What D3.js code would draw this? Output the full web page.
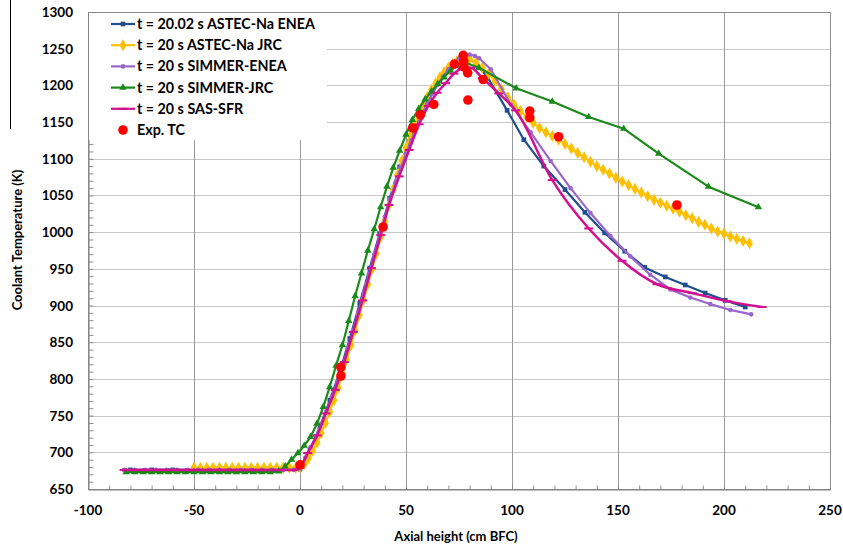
<!DOCTYPE html>
<html>
<head>
<meta charset="utf-8">
<script src="https://cdn.jsdelivr.net/npm/d3@7"></script>
<style>
  body { margin: 0; background: #fff; }
  svg text { font-family: Lato, "Open Sans", sans-serif; font-weight: bold; fill: #000; }
</style>
</head>
<body>
<svg id="chart" width="843" height="549"></svg>
<script>
// series data (axial height in cm BFC, coolant temperature in K)
const astecEneaX = [-80, -70, -60, -50, -40, -30, -20, -10, 0,
  4.7, 9.4, 14.1, 18.8, 23.5, 28.2, 32.9, 37.6, 42.3, 47, 51.7, 56.4, 61.1, 65.8, 70.5, 75.2, 79.9,
  88.3, 97.7, 105.6, 115, 125, 134.4, 143.7, 153.2, 162.6, 172.3, 181.7, 191.1, 200.6, 210];
const astecEneaT = [676, 676, 676, 676, 676, 676, 676, 676, 677,
  703, 735, 771, 810, 855, 903, 951, 998, 1046, 1089, 1124, 1156, 1184, 1206, 1223, 1234, 1238,
  1212, 1166, 1126, 1090, 1058, 1027, 999, 974, 952, 939, 928, 917, 907, 898];

const astecJrcX = [-50, -47, -44, -41, -38, -35, -32, -29, -26, -23, -20, -17, -14, -11, -8, -5, -2, 0,
  2, 4, 6, 8, 10, 12, 14, 16, 18, 20, 22, 24, 26, 28, 30, 32, 34, 36, 38, 40, 42, 44, 46, 48, 50,
  52, 54, 56, 58, 60, 62, 64, 66, 68, 70, 72, 74, 76, 78, 80, 83, 86, 89, 92, 95, 98, 101, 104, 107,
  110, 113, 116, 119, 122, 125, 128, 131, 134, 137, 140, 143, 146, 149, 152, 155, 158, 161, 164, 167,
  170, 173, 176, 179, 182, 185, 188, 191, 194, 197, 200, 203, 206, 209, 212];
const astecJrcT = [679, 679, 679, 679, 679, 679, 679, 679, 679, 679, 679, 679, 679, 679, 679, 679, 679, 680,
  684, 692, 702, 713, 726, 740, 755, 771, 788, 807, 826, 846, 866, 887, 908, 929, 950, 971, 993, 1015, 1037, 1058, 1078, 1097, 1115,
  1131, 1146, 1160, 1173, 1184, 1194, 1203, 1211, 1218, 1224, 1229, 1233, 1236, 1237, 1236, 1231, 1224, 1216, 1206, 1195, 1184, 1174, 1165, 1157,
  1149, 1142, 1136, 1131, 1126, 1120, 1114, 1108, 1102, 1096, 1090, 1085, 1080, 1074, 1069, 1064, 1059, 1054, 1049, 1044,
  1040, 1036, 1032, 1028, 1023, 1019, 1014, 1010, 1005, 1001, 998, 994, 991, 988, 985];

const simmerEneaX = [-83, -78, -73, -68, -63, -58, -53, -48, -43, -38, -33, -28, -23, -18, -13, -8, -3, 0,
  2.5, 5, 7.5, 10, 12.5, 15, 17.5, 20, 22.5, 25, 27.5, 30, 32.5, 35, 37.5, 40, 42.5, 45, 47.5, 50,
  52.5, 55, 57.5, 60, 62.5, 65, 67.5, 70, 72.5, 75, 77.5, 80, 82.5, 84.5,
  90, 99.4, 108.8, 118.2, 127.6, 137, 146.4, 155.8, 165.2, 174.7, 184.1, 193.5, 203, 212.8];
const simmerEneaT = [676, 676, 676, 676, 676, 676, 676, 676, 676, 676, 676, 676, 676, 676, 676, 676, 676, 678,
  693, 707, 722, 739, 757, 776, 796, 817, 841, 866, 891, 917, 943, 969, 995, 1021, 1045, 1067, 1088, 1107,
  1125, 1143, 1160, 1175, 1189, 1201, 1212, 1222, 1230, 1237, 1241, 1242, 1240, 1237,
  1222, 1174, 1136, 1097, 1060, 1026, 995, 967, 942, 922, 911, 902, 894, 888];

const simmerJrcX = [-82, -78, -74, -70, -66, -62, -58, -54, -50, -46, -42, -38, -34, -30, -26, -22, -18, -14, -10,
  -7, -4, -1, 2, 5, 8, 11, 14, 17, 20, 23, 26, 29, 32, 35, 38, 41, 44, 47, 50, 53, 56, 59, 62, 65, 68, 71, 74, 77,
  84.4, 102, 119, 136.2, 152.7, 169.2, 192.7, 216.2];
const simmerJrcT = [673, 673, 673, 673, 673, 673, 673, 673, 673, 673, 673, 673, 673, 673, 673, 673, 673, 673, 674,
  681, 690, 699, 709, 721, 739, 762, 789, 818, 846, 879, 913, 944, 975, 1004, 1034, 1062, 1088, 1111, 1133, 1153, 1168, 1181, 1192, 1202, 1211, 1220, 1227, 1232,
  1224, 1196, 1178, 1157, 1141, 1107, 1062, 1034];

const sasX = [-83, -79, -75, -71, -67, -63, -59, -55, -51, -47, -43, -39, -35, -31, -27, -23, -19, -15, -11, -7, -3, 0,
  3.6, 8.1, 12.2, 16.6, 20.9, 25.1, 29.5, 33.7, 38.1, 42, 46.8, 51.5, 56.2, 60.5, 64.7, 68.7, 72.6, 76.6, 80.5,
  86, 93.8, 101.7, 119, 136.2, 151.9, 168.4, 185, 201.5, 218];
const sasT = [676, 676, 676, 676, 676, 676, 676, 676, 676, 676, 676, 676, 676, 676, 676, 676, 676, 676, 676, 676, 676, 679,
  699, 723, 753, 785, 823, 864, 907, 951, 996, 1037, 1076, 1112, 1147, 1172, 1190, 1203, 1216, 1223, 1224,
  1210, 1189, 1166, 1071, 1005, 961, 929, 917, 906, 898];

const expX = [0, 19.3, 19.3, 39.2, 53.2, 56.8, 63.1, 72.8, 77, 77.2, 77.4, 79.1, 79.2, 86.4, 108.4, 108.4, 122, 177.8];
const expT = [683, 816, 804, 1007, 1142, 1160, 1174, 1229, 1241, 1233, 1225, 1217, 1180, 1208, 1165, 1156, 1130, 1037];

const seriesNames = ["t = 20.02 s ASTEC-Na ENEA", "t = 20 s ASTEC-Na JRC", "t = 20 s SIMMER-ENEA",
  "t = 20 s SIMMER-JRC", "t = 20 s SAS-SFR", "Exp. TC"];
const seriesColors = ["#1f4e8c", "#ffc000", "#9966cc", "#1a8a1a", "#d10f8f", "#ff0000"];

const xTicks = [-100, -50, 0, 50, 100, 150, 200, 250];
const yTicks = [650, 700, 750, 800, 850, 900, 950, 1000, 1050, 1100, 1150, 1200, 1250, 1300];

const svg = d3.select("#chart");
const L = 88, R = 830, T = 12, B = 489;
const x = d3.scaleLinear().domain([-100, 250]).range([L, R]);
const y = d3.scaleLinear().domain([650, 1300]).range([B, T]);

// stray edge line from the original screenshot
svg.append("line").attr("x1", 10.5).attr("x2", 10.5).attr("y1", 0).attr("y2", 129)
  .attr("stroke", "#000").attr("stroke-width", 1);

// grid
svg.append("g").selectAll("line").data(yTicks).join("line")
  .attr("x1", L).attr("x2", R)
  .attr("y1", d => Math.round(y(d)) + 0.5).attr("y2", d => Math.round(y(d)) + 0.5)
  .attr("stroke", "#c8c8c8");
svg.append("g").selectAll("line").data(xTicks).join("line")
  .attr("y1", T).attr("y2", B)
  .attr("x1", d => Math.round(x(d)) + 0.5).attr("x2", d => Math.round(x(d)) + 0.5)
  .attr("stroke", "#9a9a9a");

// plot border
svg.append("rect").attr("x", L + 0.5).attr("y", T + 0.5).attr("width", R - L).attr("height", B - T)
  .attr("fill", "none").attr("stroke", "#8c8c8c");

// axes with inner minor ticks
const yAxis = d3.axisRight(y).tickValues(d3.range(650, 1301, 10)).tickSize(5).tickFormat("");
svg.append("g").attr("transform", `translate(${L + 0.5},0)`).call(yAxis)
  .call(g => g.selectAll("line").attr("stroke", "#8c8c8c"))
  .call(g => g.select(".domain").attr("stroke", "#7f7f7f"));
const xAxis = d3.axisTop(x).tickValues(d3.range(-100, 251, 10)).tickSize(4).tickFormat("");
svg.append("g").attr("transform", `translate(0,${B + 0.5})`).call(xAxis)
  .call(g => g.selectAll("line").attr("stroke", "#8c8c8c"))
  .call(g => g.select(".domain").attr("stroke", "#7f7f7f"));

// tick labels
svg.append("g").selectAll("text").data(yTicks).join("text")
  .attr("x", 73).attr("y", d => y(d) + 5)
  .attr("text-anchor", "end").attr("font-size", 13.5).text(d => d);
svg.append("g").selectAll("text").data(xTicks).join("text")
  .attr("x", d => x(d)).attr("y", 515)
  .attr("text-anchor", "middle").attr("font-size", 13.5).text(d => d);

// axis titles
svg.append("text").attr("x", 456).attr("y", 541).attr("text-anchor", "middle")
  .attr("font-size", 13).text("Axial height (cm BFC)");
svg.append("text").attr("transform", "translate(22,240) rotate(-90)").attr("text-anchor", "middle")
  .attr("font-size", 13).text("Coolant Temperature (K)");

// marker drawers
const sym = (type, size) => d3.symbol().type(type).size(size);
const markers = [
  (g, c) => g.append("path").attr("d", sym(d3.symbolSquare, 22)()).attr("fill", c),
  (g, c) => g.append("path").attr("d", sym(d3.symbolDiamond, 42)()).attr("fill", c),
  (g, c) => g.append("circle").attr("r", 2.3).attr("fill", c),
  (g, c) => g.append("path").attr("d", sym(d3.symbolTriangle, 24)()).attr("fill", c),
  (g, c) => g.append("rect").attr("x", -4.5).attr("y", -1).attr("width", 9).attr("height", 2).attr("fill", c),
  (g, c) => g.append("circle").attr("r", 4.8).attr("fill", c)
];

const lineSeries = [
  [astecEneaX, astecEneaT],
  [astecJrcX, astecJrcT],
  [simmerEneaX, simmerEneaT],
  [simmerJrcX, simmerJrcT],
  [sasX, sasT]
];

lineSeries.forEach(([xs, ts], i) => {
  const pts = xs.map((v, k) => [v, ts[k]]);
  const line = d3.line().x(d => x(d[0])).y(d => y(d[1]))
    .curve(i === 4 ? d3.curveMonotoneX : d3.curveLinear);
  const g = svg.append("g");
  g.append("path").datum(pts).attr("d", line)
    .attr("fill", "none").attr("stroke", seriesColors[i]).attr("stroke-width", i === 4 ? 2.5 : 2.2)
    .attr("stroke-linejoin", "round");
  g.selectAll("g").data(pts).join("g")
    .attr("transform", d => `translate(${x(d[0])},${y(d[1])})`)
    .each(function () { markers[i](d3.select(this), seriesColors[i]); });
});

// experimental points
svg.append("g").selectAll("circle").data(expX.map((v, k) => [v, expT[k]])).join("circle")
  .attr("cx", d => x(d[0])).attr("cy", d => y(d[1])).attr("r", 4.8).attr("fill", seriesColors[5]);

// legend
const lg = svg.append("g");
lg.append("rect").attr("x", L + 1).attr("y", T + 1).attr("width", 238).attr("height", 127).attr("fill", "#fff");
seriesNames.forEach((name, i) => {
  const cy = 24 + i * 21.2;
  const row = lg.append("g");
  if (i < 5) {
    row.append("line").attr("x1", 111).attr("x2", 135).attr("y1", cy).attr("y2", cy)
      .attr("stroke", seriesColors[i]).attr("stroke-width", 2.2);
  }
  markers[i](row.append("g").attr("transform", `translate(123,${cy})`), seriesColors[i]);
  row.append("text").attr("x", 137).attr("y", cy + 5).attr("font-size", 14.3).text(name);
});
</script>
</body>
</html>
